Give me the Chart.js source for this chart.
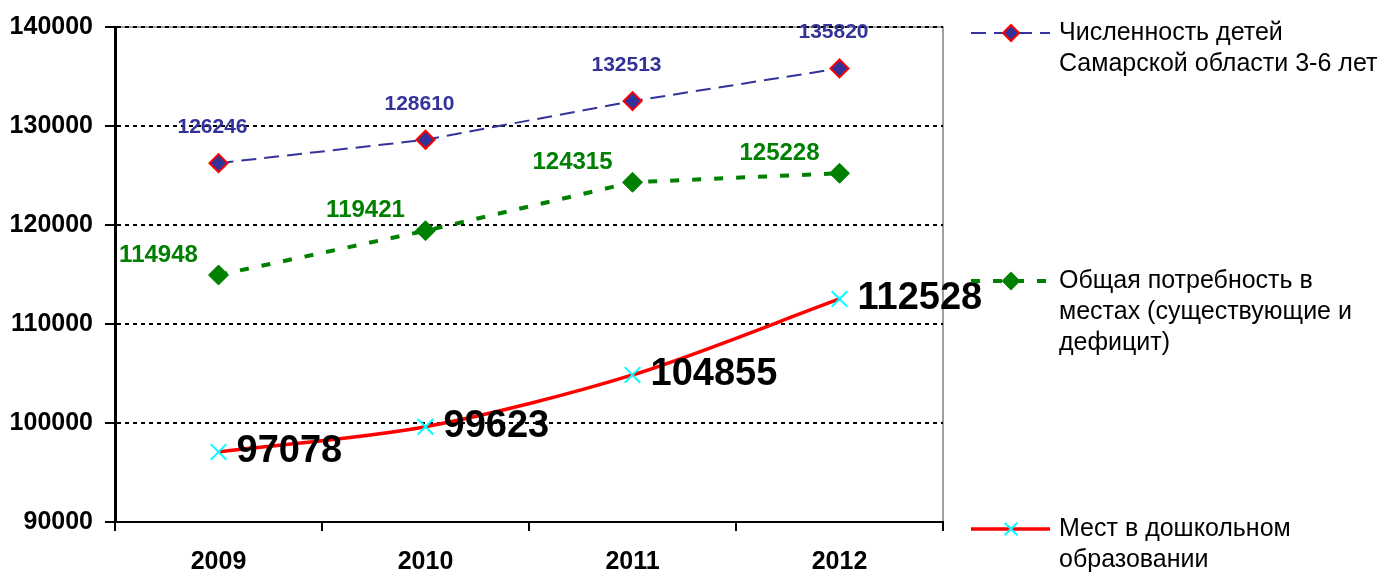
<!DOCTYPE html>
<html>
<head>
<meta charset="utf-8">
<script src="https://cdn.jsdelivr.net/npm/chart.js@4"></script>
<style>
  html, body { margin: 0; padding: 0; background: #fff; }
  #wrap { width: 1389px; height: 572px; }
</style>
</head>
<body>
<div id="wrap"><canvas id="chart" width="1389" height="572"></canvas></div>
<script>
const years = ["2009", "2010", "2011", "2012"]
const children = [126246, 128610, 132513, 135820]
const demand = [114948, 119421, 124315, 125228]
const places = [97078, 99623, 104855, 112528]
const legendLabels = [
  ["Численность детей", "Самарской области 3-6 лет"],
  ["Общая потребность в", "местах (существующие и", "дефицит)"],
  ["Мест в дошкольном", "образовании"],
]

const FONT = "'Liberation Sans', Arial, sans-serif"

// value labels next to the points
const valueLabels = {
  id: "valueLabels",
  afterDatasetsDraw(chart) {
    const ctx = chart.ctx
    const styles = [
      { color: "#333399", size: 21, dx: -6, dy: -36, align: "center" },
      { color: "#008000", size: 24, dx: -60, dy: -20, align: "center" },
      { color: "#000", size: 38, dx: 18, dy: 0, align: "left" },
    ]
    chart.data.datasets.forEach((ds, i) => {
      const s = styles[i]
      const meta = chart.getDatasetMeta(i)
      ctx.save()
      ctx.font = "bold " + s.size + "px " + FONT
      ctx.fillStyle = s.color
      ctx.textAlign = s.align
      ctx.textBaseline = "middle"
      meta.data.forEach((pt, j) => {
        ctx.fillText(String(ds.data[j]), pt.x + s.dx, pt.y + s.dy)
      })
      ctx.restore()
    })
  },
}

// thin gray frame, drawn under the grid
const frame = {
  id: "frame",
  beforeDraw(chart) {
    const ctx = chart.ctx
    const a = chart.chartArea
    ctx.save()
    ctx.strokeStyle = "#808080"
    ctx.lineWidth = 1.5
    ctx.beginPath()
    ctx.moveTo(a.left, a.top)
    ctx.lineTo(a.right, a.top)
    ctx.lineTo(a.right, a.bottom)
    ctx.stroke()
    ctx.restore()
  },
}

// legend on the right, Excel style
const sideLegend = {
  id: "sideLegend",
  afterDraw(chart) {
    const ctx = chart.ctx
    const entryY = [33, 281, 529]
    const x0 = 971, x1 = 1050, mid = 1011
    chart.data.datasets.forEach((ds, i) => {
      const y = entryY[i]
      ctx.save()
      ctx.strokeStyle = ds.borderColor
      ctx.lineWidth = ds.borderWidth
      ctx.setLineDash(ds.borderDash || [])
      ctx.beginPath()
      ctx.moveTo(x0, y)
      ctx.lineTo(x1, y)
      ctx.stroke()
      ctx.setLineDash([])
      const r = i === 2 ? 9 : 8
      if (i === 2) {
        ctx.strokeStyle = ds.pointBorderColor
        ctx.lineWidth = 2
        ctx.beginPath()
        ctx.moveTo(mid - r * 0.7, y - r * 0.7)
        ctx.lineTo(mid + r * 0.7, y + r * 0.7)
        ctx.moveTo(mid - r * 0.7, y + r * 0.7)
        ctx.lineTo(mid + r * 0.7, y - r * 0.7)
        ctx.stroke()
      } else {
        ctx.fillStyle = ds.pointBackgroundColor
        ctx.strokeStyle = ds.pointBorderColor
        ctx.lineWidth = 2
        ctx.beginPath()
        ctx.moveTo(mid, y - r)
        ctx.lineTo(mid + r, y)
        ctx.lineTo(mid, y + r)
        ctx.lineTo(mid - r, y)
        ctx.closePath()
        ctx.fill()
        ctx.stroke()
      }
      ctx.font = "25px " + FONT
      ctx.fillStyle = "#000"
      ctx.textAlign = "left"
      ctx.textBaseline = "middle"
      legendLabels[i].forEach((line, k) => {
        ctx.fillText(line, 1059, y + k * 31)
      })
      ctx.restore()
    })
  },
}

new Chart(document.getElementById("chart"), {
  type: "line",
  data: {
    labels: years,
    datasets: [
      {
        label: legendLabels[0].join(" "),
        data: children,
        borderColor: "#333399",
        borderWidth: 2,
        borderDash: [15, 8],
        tension: 0,
        pointStyle: "rectRot",
        pointRadius: 9,
        pointBackgroundColor: "#333399",
        pointBorderColor: "#ff0000",
        pointBorderWidth: 2,
      },
      {
        label: legendLabels[1].join(" "),
        data: demand,
        borderColor: "#008000",
        borderWidth: 4,
        borderDash: [9, 13],
        tension: 0,
        pointStyle: "rectRot",
        pointRadius: 10,
        pointBackgroundColor: "#008000",
        pointBorderColor: "#008000",
        pointBorderWidth: 1,
      },
      {
        label: legendLabels[2].join(" "),
        data: places,
        borderColor: "#ff0000",
        borderWidth: 3.5,
        tension: 0.3,
        pointStyle: "crossRot",
        pointRadius: 11,
        pointBackgroundColor: "#00ffff",
        pointBorderColor: "#00ffff",
        pointBorderWidth: 2,
      },
    ],
  },
  options: {
    responsive: false,
    animation: false,
    layout: { padding: { top: 27, right: 446, left: 0, bottom: 0 } },
    plugins: { legend: { display: false }, tooltip: { enabled: false } },
    scales: {
      x: {
        offset: true,
        grid: {
          offset: true,
          drawOnChartArea: false,
          drawTicks: true,
          tickLength: 9,
          color: "#000",
          lineWidth: 2,
        },
        border: { color: "#000", width: 2 },
        ticks: {
          color: "#000",
          font: { family: FONT, size: 25, weight: "bold" },
          padding: 16,
        },
        afterFit(scale) { scale.height = 50 },
      },
      y: {
        min: 90000,
        max: 140000,
        ticks: {
          stepSize: 10000,
          color: "#000",
          font: { family: FONT, size: 25, weight: "bold" },
          padding: 12,
          callback: (v) => String(v),
        },
        grid: {
          color: "#000",
          lineWidth: 2,
          tickLength: 10,
          tickColor: "#000",
        },
        border: { color: "#000", width: 3, dash: [4, 4] },
        afterFit(scale) { scale.width = 115 },
      },
    },
  },
  plugins: [frame, valueLabels, sideLegend],
})
</script>
</body>
</html>
